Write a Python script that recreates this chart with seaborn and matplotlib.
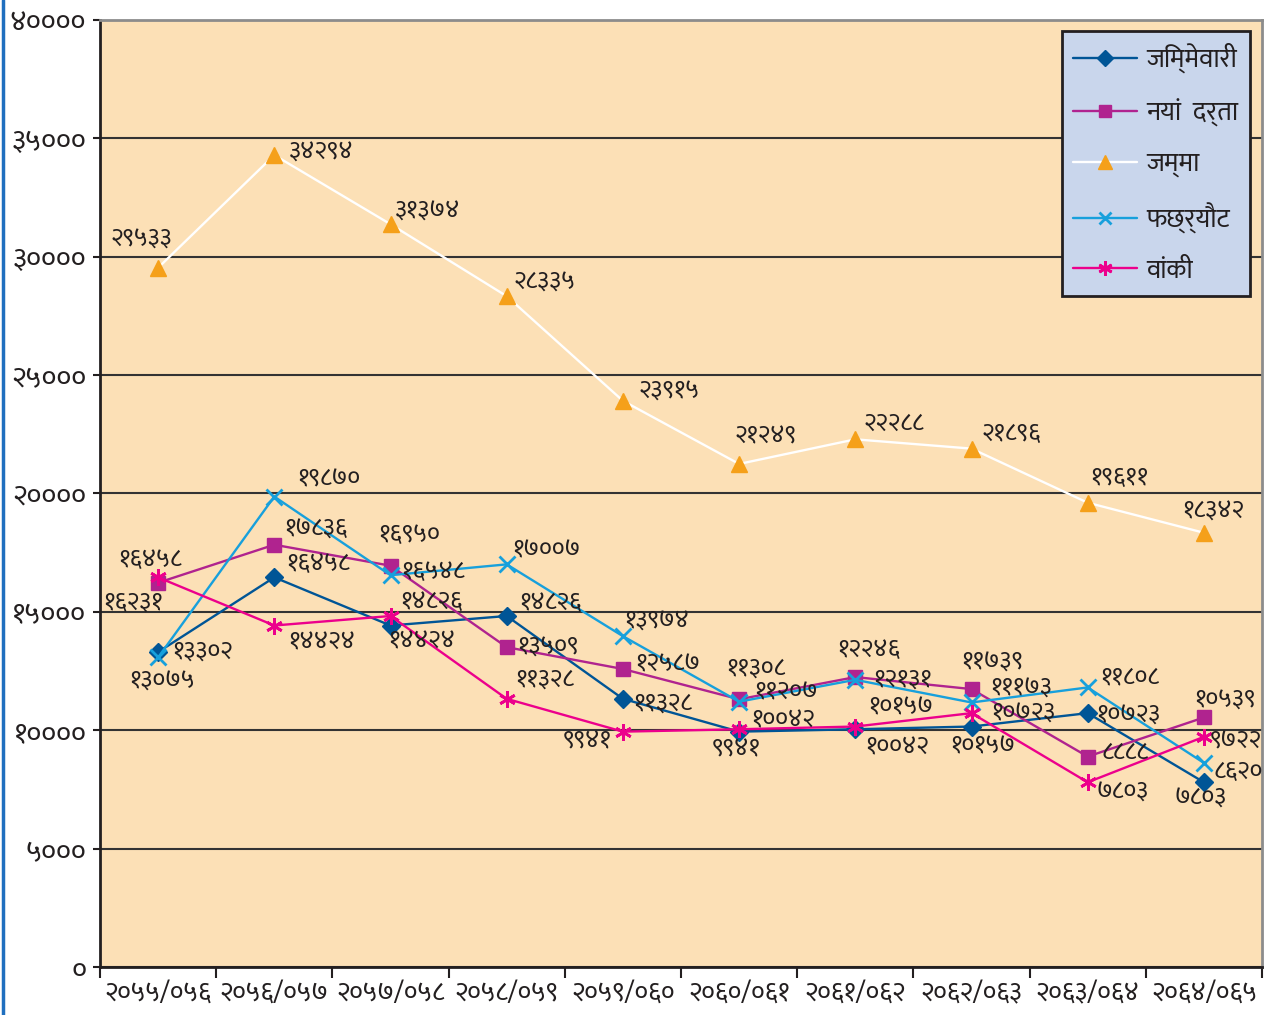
import matplotlib
matplotlib.use('Agg')
import matplotlib.pyplot as plt
import seaborn as sns
from matplotlib.lines import Line2D

# fiscal years (B.S.)
years = ['२०५५/०५६', '२०५६/०५७', '२०५७/०५८', '२०५८/०५९', '२०५९/०६०',
         '२०६०/०६१', '२०६१/०६२', '२०६२/०६३', '२०६३/०६४', '२०६४/०६५']

# case counts per year
jimmewari = [13302, 16458, 14424, 14826, 11328, 9941, 10042, 10157, 10723, 7803]
naya_darta = [16231, 17836, 16950, 13509, 12587, 11308, 12246, 11739, 8888, 10539]
jamma = [29533, 34294, 31374, 28335, 23915, 21249, 22288, 21896, 19611, 18342]
fachhyaut = [13075, 19870, 16548, 17007, 13974, 11207, 12131, 11173, 11808, 8620]
banki = [16458, 14424, 14826, 11328, 9941, 10042, 10157, 10723, 7803, 9722]

series_names = ['जिम्मेवारी', 'नयां  दर्ता', 'जम्मा', 'फछ्र्यौट', 'वांकी']
y_ticks = [0, 5000, 10000, 15000, 20000, 25000, 30000, 35000, 40000]

DEV = str.maketrans('0123456789', '०१२३४५६७८९')

sns.set_theme(style='white')
plt.rcParams['font.family'] = ['Ek Mukta', 'DejaVu Sans']

ink = '#231F20'

# label offsets in pixels (dx, dy) from each marker
off_jimmewari = [(44, 0), (44, 13), (31, -16), (44, 13), (40, -5), (-3, -18), (42, -18), (11, -20), (40, -2), (-3, -16)]
off_naya = [(-25, -20), (41, 15), (19, 31), (41, 0), (45, 5), (17, 31), (13, 27), (21, 26), (37, 4), (21, 17)]
off_jamma = [(-17, 28), (47, 2), (37, 13), (38, 14), (46, 9), (26, 28), (39, 15), (40, 15), (31, 25), (9, 21)]
off_fachhyaut = [(4, -24), (54, 17), (42, 3), (39, 14), (34, 15), (47, 9), (47, 0), (49, 14), (42, 10), (34, -9)]
off_banki = [(-8, 17), (47, -17), (41, 14), (38, 19), (-36, -10), (44, 9), (45, 19), (52, 0), (35, -10), (32, -5)]

styles = [
    dict(values=jimmewari, offs=off_jimmewari, color='#005596', marker='D', ms=9, mfc='#005596', mec='#005596', mew=1),
    dict(values=naya_darta, offs=off_naya, color='#B0238F', marker='s', ms=10, mfc='#B0238F', mec='#B0238F', mew=1),
    dict(values=jamma, offs=off_jamma, color='white', marker='^', ms=12, mfc='#F5A01A', mec='#F5A01A', mew=1),
    dict(values=fachhyaut, offs=off_fachhyaut, color='#17A0DC', marker='x', ms=11, mfc='#17A0DC', mec='#17A0DC', mew=2),
    dict(values=banki, offs=off_banki, color='#EC008C', marker=(6, 2, 0), ms=12, mfc='#EC008C', mec='#EC008C', mew=2),
]

fig = plt.figure(figsize=(12.7, 10.15), dpi=100)
ax = fig.add_axes([100 / 1270, 1 - 967 / 1015, 1162 / 1270, 947 / 1015])
ax.set_facecolor('#FCE0B6')

pos = list(range(len(years)))
handles = []
for name, st in zip(series_names, styles):
    sns.lineplot(x=pos, y=st['values'], ax=ax, color=st['color'], linewidth=1.7,
                 marker=st['marker'], markersize=st['ms'], markerfacecolor=st['mfc'],
                 markeredgecolor=st['mec'], markeredgewidth=st['mew'], legend=False, zorder=3)
    handles.append(Line2D([], [], color=st['color'], linewidth=1.7, marker=st['marker'],
                          markersize=st['ms'] * 0.85, markerfacecolor=st['mfc'],
                          markeredgecolor=st['mec'], markeredgewidth=st['mew'], label=name))
    for x, v, (dx, dy) in zip(pos, st['values'], st['offs']):
        ax.annotate(str(v).translate(DEV), (x, v), xytext=(dx, dy), textcoords='offset pixels',
                    ha='center', va='center', fontsize=18, color=ink, zorder=4)

ax.set_xlim(-0.5, len(years) - 0.5)
ax.set_ylim(0, 40000)

ax.set_yticks(y_ticks)
ax.set_yticklabels([str(t).translate(DEV) for t in y_ticks], fontsize=21, color=ink)
ax.grid(axis='y', color='#333333', linewidth=1.5)
ax.set_axisbelow(True)

# ticks at the category borders, labels at the centres
ax.set_xticks([p - 0.5 for p in range(len(years) + 1)])
ax.set_xticklabels([])
ax.set_xticks(pos, minor=True)
ax.set_xticklabels(years, minor=True, fontsize=19, color=ink)
ax.tick_params(axis='x', which='major', direction='out', length=8, width=1.5, color=ink, bottom=True)
ax.tick_params(axis='x', which='minor', length=0, pad=10)
ax.tick_params(axis='y', direction='out', length=5, width=1.5, color=ink, left=True, pad=5)

for side in ['left', 'bottom']:
    ax.spines[side].set_color(ink)
    ax.spines[side].set_linewidth(2)
for side in ['top', 'right']:
    ax.spines[side].set_color('#8C8C8C')
    ax.spines[side].set_linewidth(2)

ax.set_xlabel('')
ax.set_ylabel('')

leg = ax.legend(handles=handles, loc='upper right', bbox_to_anchor=(0.9897, 0.9884),
                borderaxespad=0, fontsize=19, frameon=True, fancybox=False, framealpha=1,
                handlelength=2.4, handletextpad=0.35, labelspacing=0.95, borderpad=0.45)
leg.get_frame().set_facecolor('#C9D6EC')
leg.get_frame().set_edgecolor(ink)
leg.get_frame().set_linewidth(2)
for t in leg.get_texts():
    t.set_color(ink)

# blue page rule on the far left
fig.add_artist(Line2D([0.0025, 0.0025], [0, 1], transform=fig.transFigure, color='#1F6FBF', linewidth=2.5))

fig.savefig('out.png', dpi=100)
